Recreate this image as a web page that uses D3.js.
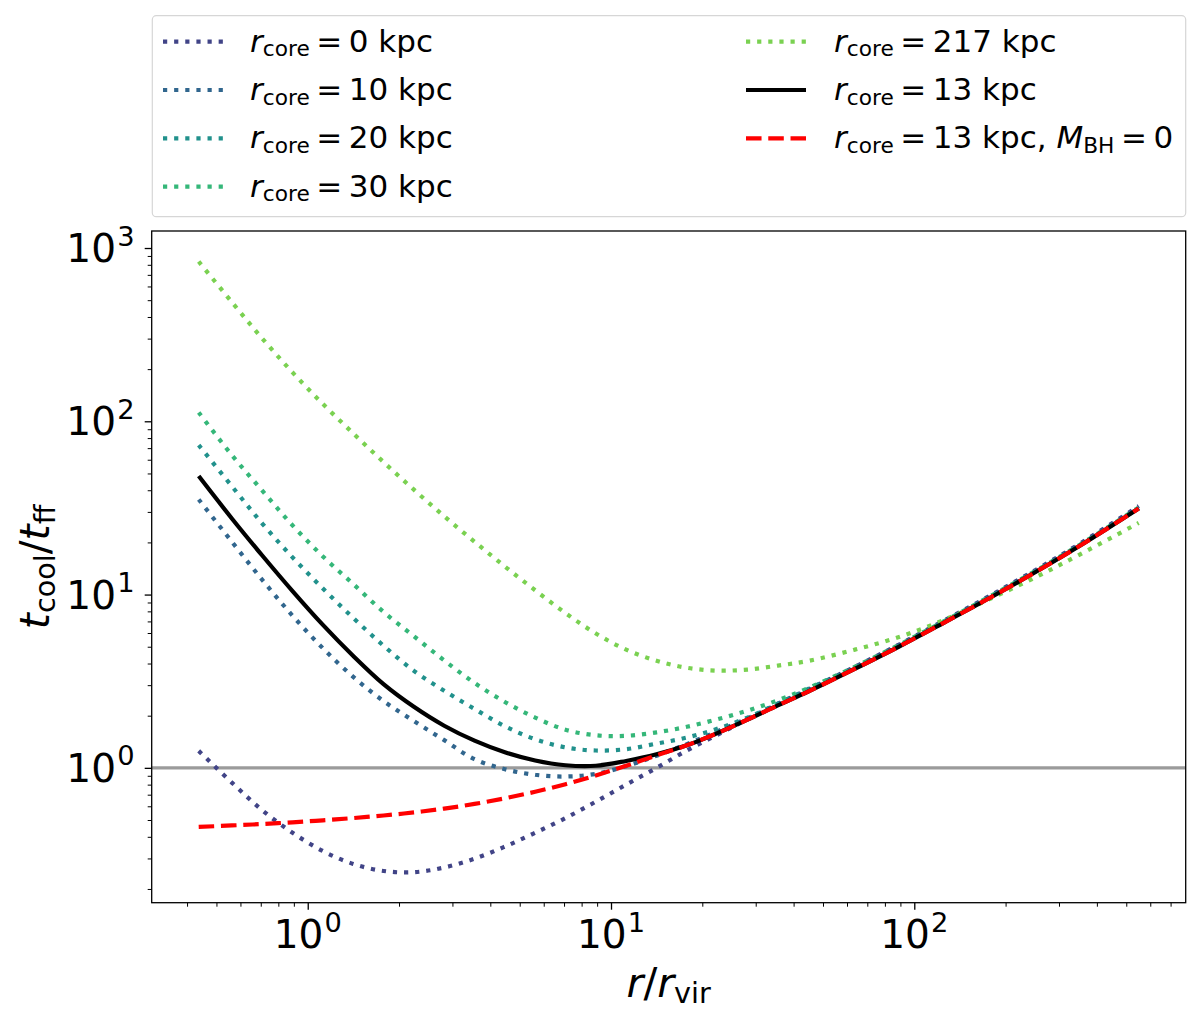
<!DOCTYPE html>
<html><head><meta charset="utf-8">
<script src="https://cdn.jsdelivr.net/npm/d3@7"></script>
<style>
body{margin:0;background:#fff}
svg{display:block}
text{font-family:"DejaVu Sans",sans-serif;fill:#000;white-space:pre}
</style>
</head><body>
<svg id="chart" width="1200" height="1021"></svg>
<script>
// ---------- data ----------
const radius = [0.437, 0.562, 0.708, 0.891, 1.122, 1.413, 1.778, 2.239, 2.818, 3.548, 4.467, 5.623, 7.079, 8.913, 11.22, 14.13, 17.78, 22.39, 28.18, 35.48, 44.67, 63.1, 89.1, 125.9, 177.8, 251.2, 354.8, 549.5];
const ratio_rc0   = [1.253, 0.822, 0.569, 0.422, 0.331, 0.279, 0.254, 0.250, 0.266, 0.299, 0.351, 0.422, 0.513, 0.638, 0.800, 1.0, 1.259, 1.549, 1.905, 2.344, 2.83, 3.80, 5.15, 7.11, 9.86, 13.87, 19.86, 32.4];
const ratio_rc10  = [35.4, 20.18, 12.16, 7.55, 4.90, 3.35, 2.43, 1.862, 1.445, 1.122, 0.982, 0.912, 0.891, 0.923, 1.023, 1.175, 1.371, 1.622, 1.928, 2.317, 2.786, 3.733, 5.06, 6.98, 9.68, 13.6, 19.5, 31.6];
const ratio_rc20  = [72.9, 42.2, 25.7, 16.4, 10.84, 7.33, 5.07, 3.63, 2.786, 2.188, 1.738, 1.462, 1.312, 1.259, 1.282, 1.380, 1.496, 1.679, 1.950, 2.344, 2.851, 3.758, 5.07, 7.00, 9.70, 13.65, 19.5, 31.6];
const ratio_rc30  = [112.5, 63.8, 39.8, 25.1, 16.6, 11.5, 7.94, 5.75, 4.17, 3.09, 2.40, 1.95, 1.66, 1.542, 1.531, 1.603, 1.726, 1.905, 2.138, 2.455, 2.884, 3.80, 5.13, 7.05, 9.77, 13.7, 19.6, 31.8];
const ratio_rc217 = [835.6, 487.5, 300.6, 191.4, 125.9, 85.1, 58.2, 40.3, 28.3, 20.18, 14.52, 10.59, 7.82, 5.96, 4.81, 4.15, 3.78, 3.64, 3.69, 3.89, 4.14, 4.79, 5.69, 7.16, 9.44, 12.59, 17.18, 25.9];
const ratio_rc13  = [48.3, 27.5, 16.8, 10.47, 6.68, 4.42, 3.04, 2.25, 1.75, 1.435, 1.230, 1.102, 1.035, 1.028, 1.096, 1.197, 1.349, 1.585, 1.897, 2.291, 2.754, 3.698, 5.012, 6.918, 9.59, 13.49, 19.32, 31.4];
const ratio_rc13_noBH = [0.456, 0.465, 0.474, 0.485, 0.498, 0.513, 0.531, 0.553, 0.582, 0.619, 0.667, 0.728, 0.805, 0.904, 1.028, 1.180, 1.349, 1.585, 1.897, 2.291, 2.754, 3.698, 5.012, 6.918, 9.59, 13.49, 19.32, 31.4];
const coreRadii = ["0", "10", "20", "30", "217", "13", "13"];
const referenceLevel = 1;
const xTickValues = [1, 10, 100];
const yTickValues = [1, 10, 100, 1000];

// ---------- styles ----------
const seriesStyles = [
  {data: ratio_rc0,   color: "#414487", dash: "dot"},
  {data: ratio_rc10,  color: "#31668e", dash: "dot"},
  {data: ratio_rc20,  color: "#21918c", dash: "dot"},
  {data: ratio_rc30,  color: "#35b779", dash: "dot"},
  {data: ratio_rc217, color: "#7ad151", dash: "dot"},
  {data: ratio_rc13,  color: "#000000", dash: "solid"},
  {data: ratio_rc13_noBH, color: "#ff0000", dash: "dash"}
];
const LW = 4.2;
function dashArray(kind, lw) {
  if (kind === "dot") return `${lw} ${1.65*lw}`;
  if (kind === "dash") return `${3.7*lw} ${1.6*lw}`;
  return null;
}

// ---------- layout ----------
const svg = d3.select("#chart");
const L = 151.7, R = 1185.7, T = 231, B = 902.7;

function logPadded(vals) {
  const lo = Math.log10(d3.min(vals)), hi = Math.log10(d3.max(vals));
  const pad = 0.05 * (hi - lo);
  return [Math.pow(10, lo - pad), Math.pow(10, hi + pad)];
}
const allY = [].concat(...seriesStyles.map(s => s.data));
const x = d3.scaleLog().domain(logPadded(radius)).range([L, R]);
const y = d3.scaleLog().domain(logPadded(allY)).range([B, T]);

// math-like text helper
function mathText(parent, px, py, parts, size, anchor) {
  const t = parent.append("text").attr("x", px).attr("y", py)
    .attr("font-size", size).attr("text-anchor", anchor || "start");
  let shift = 0;
  parts.forEach(p => {
    const target = p.sub ? size * 0.15 : p.sup ? -size * 0.42 : 0;
    const ts = t.append("tspan").text(p.t).attr("dy", target - shift);
    shift = target;
    if (p.dx) ts.attr("dx", p.dx * size);
    if (p.sub || p.sup) ts.attr("font-size", size * 0.7);
    if (p.it) ts.attr("font-style", "italic");
  });
  return t;
}

// ---------- axes ----------
const minorX = x.ticks().filter(v => !xTickValues.includes(v));
const minorY = y.ticks().filter(v => !yTickValues.includes(v));

const gx = svg.append("g").attr("transform", `translate(0,${B})`);
gx.append("g").call(d3.axisBottom(x).tickValues(xTickValues).tickFormat("").tickSize(7).tickSizeOuter(0))
  .call(g => g.select(".domain").remove())
  .call(g => g.selectAll("line").attr("stroke", "#000").attr("stroke-width", 1.3));
gx.append("g").call(d3.axisBottom(x).tickValues(minorX).tickFormat("").tickSize(4).tickSizeOuter(0))
  .call(g => g.select(".domain").remove())
  .call(g => g.selectAll("line").attr("stroke", "#000").attr("stroke-width", 1));

const gy = svg.append("g").attr("transform", `translate(${L},0)`);
gy.append("g").call(d3.axisLeft(y).tickValues(yTickValues).tickFormat("").tickSize(7).tickSizeOuter(0))
  .call(g => g.select(".domain").remove())
  .call(g => g.selectAll("line").attr("stroke", "#000").attr("stroke-width", 1.3));
gy.append("g").call(d3.axisLeft(y).tickValues(minorY).tickFormat("").tickSize(4).tickSizeOuter(0))
  .call(g => g.select(".domain").remove())
  .call(g => g.selectAll("line").attr("stroke", "#000").attr("stroke-width", 1));

const tickFont = 39;
const expo = v => String(Math.round(Math.log10(v)));
xTickValues.forEach(v => {
  mathText(svg, x(v), 948, [{t: "10"}, {t: expo(v), sup: true, dx: 0.03}], tickFont, "middle");
});
yTickValues.forEach(v => {
  mathText(svg, 134.5, y(v) + 14, [{t: "10"}, {t: expo(v), sup: true, dx: 0.03}], tickFont, "end");
});

// axis labels
mathText(svg, (L + R) / 2, 997, [{t: "r", it: true}, {t: "/"}, {t: "r", it: true}, {t: "vir", sub: true}], 41, "middle");
const yl = svg.append("g").attr("transform", `translate(49,${(T + B) / 2}) rotate(-90)`);
mathText(yl, 0, 0, [{t: "t", it: true}, {t: "cool", sub: true}, {t: "/"}, {t: "t", it: true}, {t: "ff", sub: true}], 41, "middle");

// ---------- plot ----------
const plot = svg.append("g");
plot.append("defs").append("clipPath").attr("id", "clip")
  .append("rect").attr("x", L).attr("y", T).attr("width", R - L).attr("height", B - T);
const area = plot.append("g").attr("clip-path", "url(#clip)");

area.append("line")
  .attr("x1", L).attr("x2", R).attr("y1", y(referenceLevel)).attr("y2", y(referenceLevel))
  .attr("stroke", "#9b9b9b").attr("stroke-width", 3.3);

const line = d3.line().x(d => x(d[0])).y(d => y(d[1])).curve(d3.curveCatmullRom.alpha(0.5));
seriesStyles.forEach(s => {
  area.append("path")
    .datum(radius.map((r, i) => [r, s.data[i]]))
    .attr("d", line)
    .attr("fill", "none")
    .attr("stroke", s.color)
    .attr("stroke-width", LW)
    .attr("stroke-linecap", "butt")
    .attr("stroke-dasharray", dashArray(s.dash, LW));
});

// frame
svg.append("rect").attr("x", L).attr("y", T).attr("width", R - L).attr("height", B - T)
  .attr("fill", "none").attr("stroke", "#000").attr("stroke-width", 1.3);

// ---------- legend ----------
const leg = svg.append("g");
leg.append("rect").attr("x", 152.3).attr("y", 15.7).attr("width", 1033.4).attr("height", 201)
  .attr("rx", 4).attr("fill", "#fff").attr("fill-opacity", 0.8)
  .attr("stroke", "#d6d6d6").attr("stroke-width", 1.2);

const legFont = 31;
const cols = [{hx: 163, tx: 250}, {hx: 746, tx: 834}];
const perCol = 4;
seriesStyles.forEach((s, i) => {
  const c = cols[Math.floor(i / perCol)];
  const row = i % perCol;
  const base = 51.7 + row * 48.3;
  const hy = base - 10;
  leg.append("line").attr("x1", c.hx).attr("x2", c.hx + 60).attr("y1", hy).attr("y2", hy)
    .attr("stroke", s.color).attr("stroke-width", LW)
    .attr("stroke-dasharray", dashArray(s.dash, LW));
  const parts = [{t: "r", it: true}, {t: "core", sub: true}, {t: "=", dx: 0.21}, {t: coreRadii[i], dx: 0.21}, {t: " kpc"}];
  if (i === 6) parts.push({t: ", "}, {t: "M", it: true}, {t: "BH", sub: true}, {t: "=", dx: 0.21}, {t: "0", dx: 0.21});
  mathText(leg, c.tx, base, parts, legFont, "start");
});
</script>
</body></html>
